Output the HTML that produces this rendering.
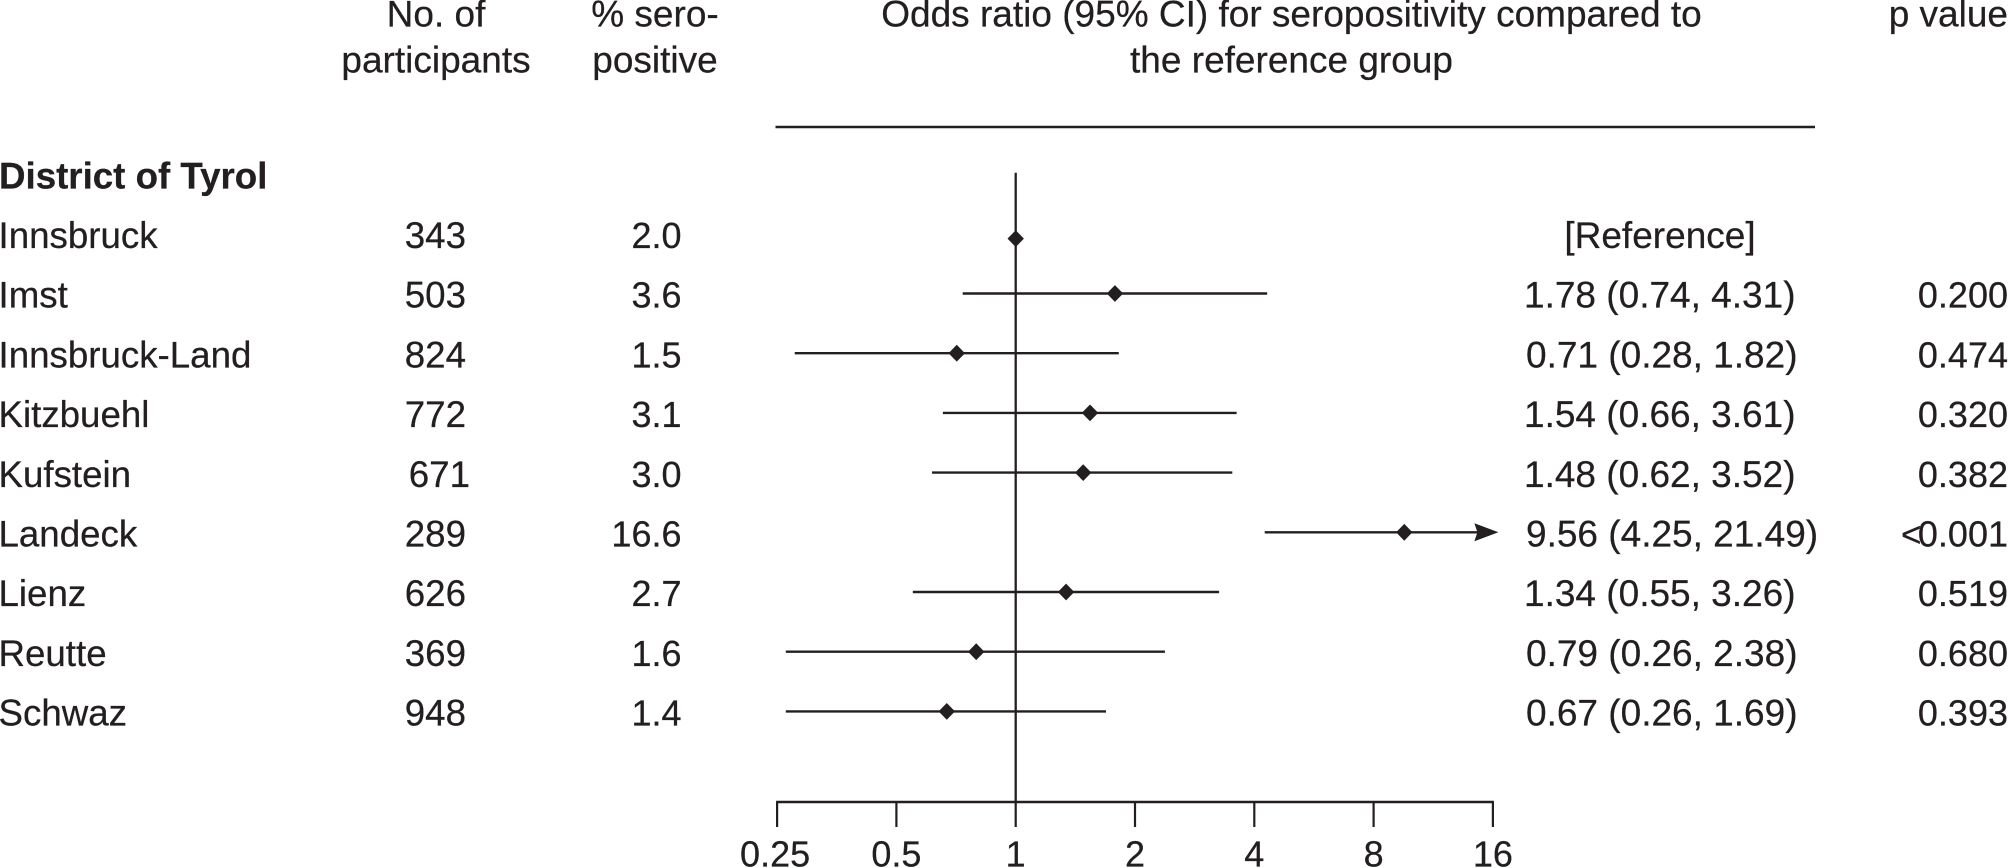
<!DOCTYPE html>
<html lang="en">
<head>
<meta charset="utf-8">
<title>Odds ratio forest plot by district of Tyrol</title>
<style>
html,body{margin:0;padding:0;background:#fff;}
body{width:2008px;height:868px;overflow:hidden;}
svg{display:block;}
text{font-family:"Liberation Sans",Arial,sans-serif;font-size:36px;fill:#231f20;stroke:#231f20;stroke-width:0.25px;}
text.wide{font-size:37px;}
text.mid{font-size:36.7px;}
</style>
</head>
<body>
<svg id="forest" xmlns="http://www.w3.org/2000/svg" width="2008" height="868" viewBox="0 0 2008 868">
  <rect x="0" y="0" width="2008" height="868" fill="#ffffff"/>
  <g>
    <text class="wide" x="436" y="26.7" text-anchor="middle">No. of</text>
    <text class="wide" x="436" y="72.7" text-anchor="middle">participants</text>
    <text class="wide" x="655" y="26.7" text-anchor="middle">% sero-</text>
    <text class="wide" x="655" y="72.7" text-anchor="middle">positive</text>
    <text class="wide" x="1291.5" y="26.7" text-anchor="middle">Odds ratio (95% CI) for seropositivity compared to</text>
    <text class="wide" x="1291.5" y="72.7" text-anchor="middle">the reference group</text>
    <text class="wide" x="2008" y="26.7" text-anchor="end">p value</text>
  </g>
  <line x1="775.5" x2="1815" y1="127" y2="127" stroke="#231f20" stroke-width="2.6"/>
  <text class="mid" x="-1" y="188.3" font-weight="bold" style="font-weight:bold">District of Tyrol</text>
  <g id="rows"></g>
  <g id="axis"></g>
  <g id="marks"></g>
</svg>
<script>
const districts = ["Innsbruck","Imst","Innsbruck-Land","Kitzbuehl","Kufstein","Landeck","Lienz","Reutte","Schwaz"];
const participants = ["343","503","824","772","671","289","626","369","948"];
const seropositive = ["2.0","3.6","1.5","3.1","3.0","16.6","2.7","1.6","1.4"];
const oddsRatios = [1, 1.78, 0.71, 1.54, 1.48, 9.56, 1.34, 0.795, 0.67];
const ciLower = [null, 0.735, 0.277, 0.655, 0.615, 4.25, 0.55, 0.263, 0.263];
const ciUpper = [null, 4.31, 1.82, 3.61, 3.52, 21.49, 3.26, 2.38, 1.69];
const ciLabels = ["[Reference]","1.78 (0.74, 4.31)","0.71 (0.28, 1.82)","1.54 (0.66, 3.61)","1.48 (0.62, 3.52)","9.56 (4.25, 21.49)","1.34 (0.55, 3.26)","0.79 (0.26, 2.38)","0.67 (0.26, 1.69)"];
const pValues = ["","0.200","0.474","0.320","0.382","<0.001","0.519","0.680","0.393"];
const axisTicks = [0.25, 0.5, 1, 2, 4, 8, 16];
const axisTickLabels = ["0.25","0.5","1","2","4","8","16"];

const SVG_NS = "http://www.w3.org/2000/svg";
const INK = "#231f20";
const AXIS_MAX = axisTicks[axisTicks.length - 1];
const AXIS_MIN = axisTicks[0];
const AXIS_Y = 802;
const xScale = v => 1015.7 + 119.3 * Math.log2(v);
const rowY = i => 293.5 + 59.7 * (i - 1);
const markY = i => rowY(i) + (ciLower[i] === null ? 4.8 : 0);
const baseY = i => 248 + 59.7 * i;

const rows = document.getElementById("rows");
const axis = document.getElementById("axis");
const marks = document.getElementById("marks");

function svgEl(tag, parent) {
  const el = document.createElementNS(SVG_NS, tag);
  parent.appendChild(el);
  return el;
}
function setText(el, x, y, anchor, str) {
  el.setAttribute("x", x);
  el.setAttribute("y", y);
  el.setAttribute("text-anchor", anchor);
  el.textContent = str;
}
function setLine(el, x1, y1, x2, y2, w) {
  el.setAttribute("x1", x1);
  el.setAttribute("y1", y1);
  el.setAttribute("x2", x2);
  el.setAttribute("y2", y2);
  el.setAttribute("stroke", INK);
  el.setAttribute("stroke-width", w);
}

districts.forEach((name, i) => {
  const y = baseY(i);

  const label = svgEl("text", rows);
  
  
  label.setAttribute("class", "mid");
  setText(label, -1.5, y, "start", name);

  const count = svgEl("text", rows);
  
  
  count.setAttribute("class", "mid");
  setText(count, i === 4 ? 470 : 466, y, "end", participants[i]);

  const pct = svgEl("text", rows);
  
  
  setText(pct, 681.5, y, "end", seropositive[i]);

  const ci = svgEl("text", rows);
  
  
  ci.setAttribute("class", "wide");
  if (ciLower[i] === null) {
    setText(ci, 1660, y, "middle", ciLabels[i]);
  } else {
    setText(ci, ciLabels[i][0] === "1" ? 1524 : 1526, y, "start", ciLabels[i]);
  }

  if (pValues[i]) {
    const p = svgEl("text", rows);
    
    
    setText(p, 2008, y, "end", "");
    const str = pValues[i];
    if (str[0] === "<") {
      const sign = svgEl("tspan", p);
      sign.setAttribute("style", "font-size:35px");
      sign.textContent = "<";
      const rest = svgEl("tspan", p);
      rest.setAttribute("dx", "-3.5");
      rest.textContent = str.slice(1);
    } else {
      p.textContent = str;
    }
  }
});

const refLine = svgEl("line", axis);


setLine(refLine, xScale(1), 172.7, xScale(1), AXIS_Y, 2.3);

const axisLine = svgEl("line", axis);


setLine(axisLine, xScale(AXIS_MIN) - 1, AXIS_Y, xScale(AXIS_MAX) + 1, AXIS_Y, 2.6);

axisTicks.forEach((v, i) => {
  const tick = svgEl("line", axis);
  
  
  setLine(tick, xScale(v), AXIS_Y, xScale(v), 827, 2.2);

  const tickLabel = svgEl("text", axis);
  
  
  setText(tickLabel, xScale(v) - (i === 0 ? 2 : 0), 866.7, "middle", axisTickLabels[i]);
});

oddsRatios.forEach((or, i) => {
  const y = markY(i);
  const cx = xScale(or);

  if (ciLower[i] !== null) {
    const clipped = ciUpper[i] > AXIS_MAX;
    const x2 = clipped ? xScale(AXIS_MAX) - 10 : xScale(ciUpper[i]);

    const ciLine = svgEl("line", marks);
    
    
    setLine(ciLine, xScale(ciLower[i]), y, x2, y, 2.4);

    if (clipped) {
      const tip = xScale(AXIS_MAX) + 5.5;
      const arrow = svgEl("polygon", marks);
      
      
      arrow.setAttribute("points", `${tip},${y} ${tip - 24},${y - 9} ${tip - 21},${y} ${tip - 24},${y + 9}`);
      arrow.setAttribute("fill", INK);
    }
  }

  const diamond = svgEl("polygon", marks);
  
  
  diamond.setAttribute("points", `${cx},${y - 8.4} ${cx + 8.2},${y} ${cx},${y + 8.4} ${cx - 8.2},${y}`);
  diamond.setAttribute("fill", INK);
});
</script>
</body>
</html>
